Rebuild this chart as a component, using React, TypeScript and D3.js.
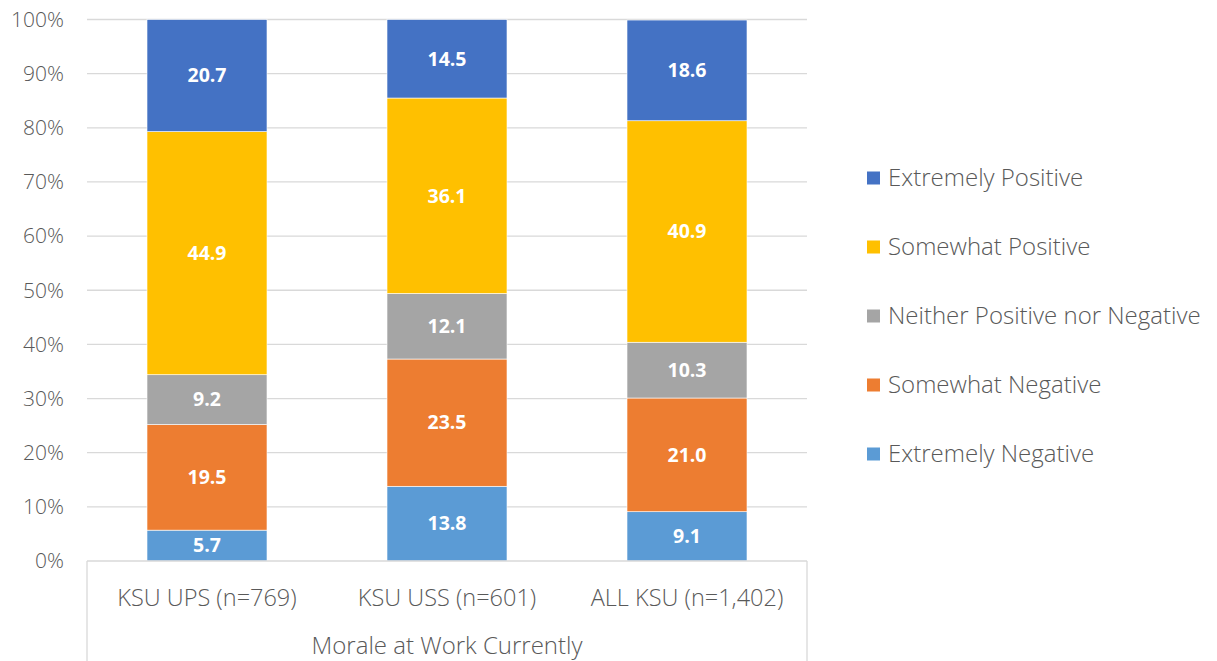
import * as d3 from 'd3';
import React, { useEffect, useRef } from 'react';

// data
const categories = ['KSU UPS (n=769)', 'KSU USS (n=601)', 'ALL KSU (n=1,402)'];
const seriesNames = ['Extremely Negative', 'Somewhat Negative', 'Neither Positive nor Negative', 'Somewhat Positive', 'Extremely Positive'];
const extremelyNegative = [5.7, 13.8, 9.1];
const somewhatNegative = [19.5, 23.5, 21.0];
const neither = [9.2, 12.1, 10.3];
const somewhatPositive = [44.9, 36.1, 40.9];
const extremelyPositive = [20.7, 14.5, 18.6];
const yTicks = [0, 10, 20, 30, 40, 50, 60, 70, 80, 90, 100];
const groupTitle = 'Morale at Work Currently';
const colors = ['#5B9BD5', '#ED7D31', '#A5A5A5', '#FFC000', '#4472C4'];

const W = 1217;
const H = 661;
const font = "'Open Sans', sans-serif";

const App = () => {
  const ref = useRef<SVGSVGElement>(null);

  useEffect(() => {
    const svg = d3.select(ref.current);
    svg.selectAll('*').remove();

    const margin = { top: 19.5, left: 87 };
    const plotRight = 807;
    const plotBottom = 561;

    const x = d3.scaleBand().domain(categories).range([margin.left, plotRight]).paddingInner(0.5).paddingOuter(0.25);
    const y = d3.scaleLinear().domain([0, 100]).range([plotBottom, margin.top]);

    // gridlines
    svg.append('g')
      .selectAll('line')
      .data(yTicks.slice(1))
      .join('line')
      .attr('x1', margin.left)
      .attr('x2', plotRight)
      .attr('y1', d => y(d))
      .attr('y2', d => y(d))
      .attr('stroke', '#d9d9d9')
      .attr('stroke-width', 1.3);

    // y labels
    svg.append('g')
      .selectAll('text')
      .data(yTicks)
      .join('text')
      .attr('x', 64)
      .attr('y', d => y(d))
      .attr('dy', '0.35em')
      .attr('text-anchor', 'end')
      .attr('fill', '#595959')
      .style('font-family', font)
      .style('font-size', '21px')
      .style('font-weight', 300)
      .text(d => d + '%');

    const rows = categories.map((c, i) => ({
      cat: c,
      'Extremely Negative': extremelyNegative[i],
      'Somewhat Negative': somewhatNegative[i],
      'Neither Positive nor Negative': neither[i],
      'Somewhat Positive': somewhatPositive[i],
      'Extremely Positive': extremelyPositive[i],
    }));
    const stacked = d3.stack<any>().keys(seriesNames)(rows);

    const layers = svg.append('g')
      .selectAll('g')
      .data(stacked)
      .join('g')
      .attr('fill', (d, i) => colors[i]);

    layers.selectAll('rect')
      .data(d => d)
      .join('rect')
      .attr('x', d => x(d.data.cat)!)
      .attr('width', x.bandwidth())
      .attr('y', d => y(d[1]))
      .attr('height', d => y(d[0]) - y(d[1]))
      .attr('stroke', '#ffffff')
      .attr('stroke-width', 0.6);

    layers.selectAll('text')
      .data(d => d)
      .join('text')
      .attr('x', d => x(d.data.cat)! + x.bandwidth() / 2)
      .attr('y', d => (y(d[0]) + y(d[1])) / 2)
      .attr('dy', '0.35em')
      .attr('text-anchor', 'middle')
      .attr('fill', '#ffffff')
      .style('font-family', font)
      .style('font-weight', 'bold')
      .style('font-size', '19.5px')
      .text(d => (d[1] - d[0]).toFixed(1));

    // category axis box
    const axisG = svg.append('g').attr('stroke', '#d9d9d9').attr('stroke-width', 1.3);
    axisG.append('line').attr('x1', margin.left).attr('x2', plotRight).attr('y1', plotBottom).attr('y2', plotBottom);
    axisG.append('line').attr('x1', margin.left).attr('x2', margin.left).attr('y1', plotBottom).attr('y2', H);
    axisG.append('line').attr('x1', plotRight).attr('x2', plotRight).attr('y1', plotBottom).attr('y2', H);

    svg.append('g')
      .selectAll('text')
      .data(categories)
      .join('text')
      .attr('x', d => x(d)! + x.bandwidth() / 2)
      .attr('y', 598)
      .attr('dy', '0.35em')
      .attr('text-anchor', 'middle')
      .attr('fill', '#595959')
      .style('font-family', font)
      .style('font-size', '23.5px')
      .style('font-weight', 300)
      .text(d => d);

    svg.append('text')
      .attr('x', (margin.left + plotRight) / 2)
      .attr('y', 646)
      .attr('dy', '0.35em')
      .attr('text-anchor', 'middle')
      .attr('fill', '#595959')
      .style('font-family', font)
      .style('font-size', '24px')
      .style('font-weight', 300)
      .text(groupTitle);

    // legend (top to bottom reversed)
    const legendItems = seriesNames.map((n, i) => ({ name: n, color: colors[i] })).reverse();
    const lg = svg.append('g')
      .selectAll('g')
      .data(legendItems)
      .join('g')
      .attr('transform', (d, i) => `translate(867, ${178 + i * 69})`);
    lg.append('rect')
      .attr('x', 0)
      .attr('y', -6.5)
      .attr('width', 13)
      .attr('height', 13)
      .attr('fill', d => d.color);
    lg.append('text')
      .attr('x', 21)
      .attr('y', 0)
      .attr('dy', '0.35em')
      .attr('fill', '#595959')
      .style('font-family', font)
      .style('font-size', '24px')
      .style('font-weight', 300)
      .text(d => d.name);
  }, []);

  return (
    <svg ref={ref} width={W} height={H} style={{ position: 'absolute', left: 0, top: 0, background: '#fff' }} />
  );
};

export default App;
